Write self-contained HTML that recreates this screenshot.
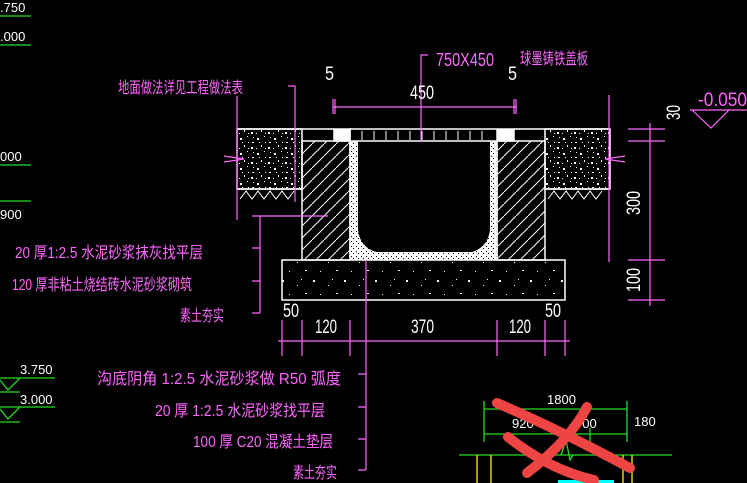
<!DOCTYPE html>
<html><head><meta charset="utf-8"><style>
html,body{margin:0;padding:0;background:#000;}
svg{display:block}
text{font-family:"Liberation Sans","Noto Sans CJK SC",sans-serif;}
.m{fill:#ff66ff}.w{fill:#fff}
</style></head><body>
<svg width="747" height="483" viewBox="0 0 747 483" xmlns="http://www.w3.org/2000/svg">
<defs>
<pattern id="sp" width="17" height="15" patternUnits="userSpaceOnUse">
<rect x="2" y="3" width="2" height="2" fill="#fff"/><rect x="9" y="1" width="1" height="1" fill="#fff"/>
<rect x="14" y="7" width="2" height="1" fill="#fff"/><rect x="6" y="10" width="1" height="2" fill="#fff"/>
<rect x="13" y="12" width="2" height="2" fill="#fff"/><rect x="10" y="13" width="1" height="1" fill="#fff"/>
<rect x="1" y="13" width="1" height="1" fill="#fff"/><rect x="10" y="7" width="1" height="1" fill="#fff"/>
<rect x="15" y="2" width="1" height="1" fill="#fff"/><rect x="4" y="7" width="1" height="1" fill="#fff"/>
</pattern>
<pattern id="sp2" width="31" height="23" patternUnits="userSpaceOnUse">
<rect x="3" y="4" width="2" height="2" fill="#fff"/><rect x="18" y="9" width="1" height="1" fill="#fff"/>
<rect x="26" y="17" width="2" height="1" fill="#fff"/><rect x="10" y="18" width="1" height="1" fill="#fff"/>
<rect x="22" y="3" width="1" height="1" fill="#fff"/>
</pattern>
<pattern id="dense" width="5" height="5" patternUnits="userSpaceOnUse">
<rect width="5" height="5" fill="#fff"/><rect x="1" y="1" width="1" height="1" fill="#000"/><rect x="3" y="3" width="1" height="1" fill="#000"/>
</pattern>
<pattern id="hat" width="12" height="12" patternUnits="userSpaceOnUse">
<path d="M0 12 L12 0" stroke="#fff" stroke-width="1"/>
</pattern>
</defs>
<g stroke="#fff" stroke-width="1.5" fill="none">
<rect x="237" y="129" width="65" height="60" fill="url(#sp)"/>
<rect x="545" y="129" width="65" height="60" fill="url(#sp)"/>
<path d="M237 129H334M514 129H610M237 189H302M545 189H610"/>
<path d="M240 199l6-8 6 8 6-8 6 8 6-8 6 8 6-8 6 8 6-8 M548 199l6-8 6 8 6-8 6 8 6-8 6 8 6-8 6 8 6-8" stroke-width="1"/>
<rect x="302" y="141" width="48" height="119" fill="url(#hat)"/>
<rect x="497" y="141" width="48" height="119" fill="url(#hat)"/>
<path d="M350 141 H358 V230 Q360 247 376 252 H472 Q488 247 490 230 V141 H497 V260 H350 Z" fill="url(#dense)" stroke="none"/>
<path d="M350 141V260M497 141V260"/>
<rect x="334" y="129" width="16" height="12" fill="#fff"/>
<rect x="498" y="129" width="16" height="12" fill="#fff"/>
<rect x="350" y="129" width="147" height="12"/>
<path d="M362 131v9M374 131v9M386 131v9M398 131v9M410 131v9M422 131v9M434 131v9M446 131v9M458 131v9M470 131v9M482 131v9" stroke-width="1"/>
<rect x="282" y="260" width="283" height="40" fill="url(#sp2)"/>
</g>
<g stroke="#ff66ff" stroke-width="1.2" fill="none">
<path d="M333 107H517M333 99v15M335 99v15M514 99v15M516 99v15"/>
<path d="M421 141V55H428"/>
<path d="M237 96V220M288 86H295V202"/>
<path d="M224 156l20 3-20 3M625 156l-20 3 20 3"/>
<path d="M609 95V262"/>
<path d="M252 216H328M260 216V313M252 248H260M252 281H260M252 313H260"/>
<path d="M278 341H570M282 320v36M302 320v36M350 320v36M497 320v36M545 320v36M565 320v36"/>
<path d="M366 260V470M358 374H366M358 407H366M358 439H366M358 470H366"/>
<path d="M650 123V306M628 129H665M628 141H665M628 260H665M628 300H665"/>
<path d="M690 110H747M692 110L711 128L729 110"/>
</g>
<g class="w" font-size="19">
<text x="325" y="80" textLength="9" lengthAdjust="spacingAndGlyphs">5</text><text x="508" y="80" textLength="9" lengthAdjust="spacingAndGlyphs">5</text>
<text x="410" y="99" textLength="24" lengthAdjust="spacingAndGlyphs">450</text>
<text x="283" y="317" textLength="16" lengthAdjust="spacingAndGlyphs">50</text><text x="545" y="317" textLength="16" lengthAdjust="spacingAndGlyphs">50</text>
<text x="315" y="333" textLength="22" lengthAdjust="spacingAndGlyphs">120</text><text x="411" y="333" textLength="23" lengthAdjust="spacingAndGlyphs">370</text><text x="509" y="333" textLength="22" lengthAdjust="spacingAndGlyphs">120</text>
<text transform="translate(680,120) rotate(-90)" textLength="15" lengthAdjust="spacingAndGlyphs">30</text>
<text transform="translate(640,215) rotate(-90)" textLength="24" lengthAdjust="spacingAndGlyphs">300</text>
<text transform="translate(640,292) rotate(-90)" textLength="24" lengthAdjust="spacingAndGlyphs">100</text>
</g>
<g class="m" font-size="16">
<text x="436" y="66" textLength="58" lengthAdjust="spacingAndGlyphs" font-size="18">750X450</text>
<text x="520" y="64" textLength="68" lengthAdjust="spacingAndGlyphs">球墨铸铁盖板</text>
<text x="118" y="93" textLength="125" lengthAdjust="spacingAndGlyphs">地面做法详见工程做法表</text>
<text x="698" y="106" font-size="19" textLength="49" lengthAdjust="spacingAndGlyphs">-0.050</text>
<text x="15" y="258" textLength="188" lengthAdjust="spacingAndGlyphs">20 厚1:2.5    水泥砂浆抹灰找平层</text>
<text x="12" y="290" textLength="180" lengthAdjust="spacingAndGlyphs">120  厚非粘土烧结砖水泥砂浆砌筑</text>
<text x="180" y="321" textLength="44" lengthAdjust="spacingAndGlyphs">素土夯实</text>
<text x="97" y="384" textLength="244" lengthAdjust="spacingAndGlyphs">沟底阴角  1:2.5   水泥砂浆做   R50   弧度</text>
<text x="155" y="416" textLength="170" lengthAdjust="spacingAndGlyphs">20 厚 1:2.5   水泥砂浆找平层</text>
<text x="193" y="447" textLength="140" lengthAdjust="spacingAndGlyphs">100  厚 C20  混凝土垫层</text>
<text x="293" y="478" textLength="44" lengthAdjust="spacingAndGlyphs">素土夯实</text>
</g>
<g stroke="#22dd22" stroke-width="1.3" fill="none">
<path d="M0 16H31M0 45H31M0 165H31M0 201H31"/>
<path d="M0 378H55M0 392H20M0 407H55M0 422H20M0 380l8 10 12-12M0 409l8 10 12-12"/>
<path d="M484 409H627M484 434H627M484 401V442M627 401V442M590 428V442M459 455H672"/>
<path d="M561 455l5-15 4 20 3-5"/>
</g>
<g class="w" font-size="13">
<text x="0" y="12">.750</text><text x="0" y="41">.000</text><text x="0" y="161">000</text><text x="0" y="219">900</text>
<text x="20" y="374">3.750</text><text x="20" y="404">3.000</text>
<text x="547" y="404">1800</text><text x="512" y="428">920</text><text x="575" y="428">700</text><text x="634" y="426">180</text>
</g>
<g stroke="#ffee00" stroke-width="1.3"><path d="M477 455V483M491 455V483M623 455V483M632 455V483"/></g>
<rect x="558" y="480" width="56" height="3" fill="#00ffff"/>
<g stroke="#ee4444" stroke-width="10" stroke-linecap="round" fill="none">
<path d="M497 403 Q560 430 630 468"/>
<path d="M587 407 Q570 440 527 473"/>
<path d="M508 437 Q550 470 594 480"/>
</g>
</svg>
</body></html>
